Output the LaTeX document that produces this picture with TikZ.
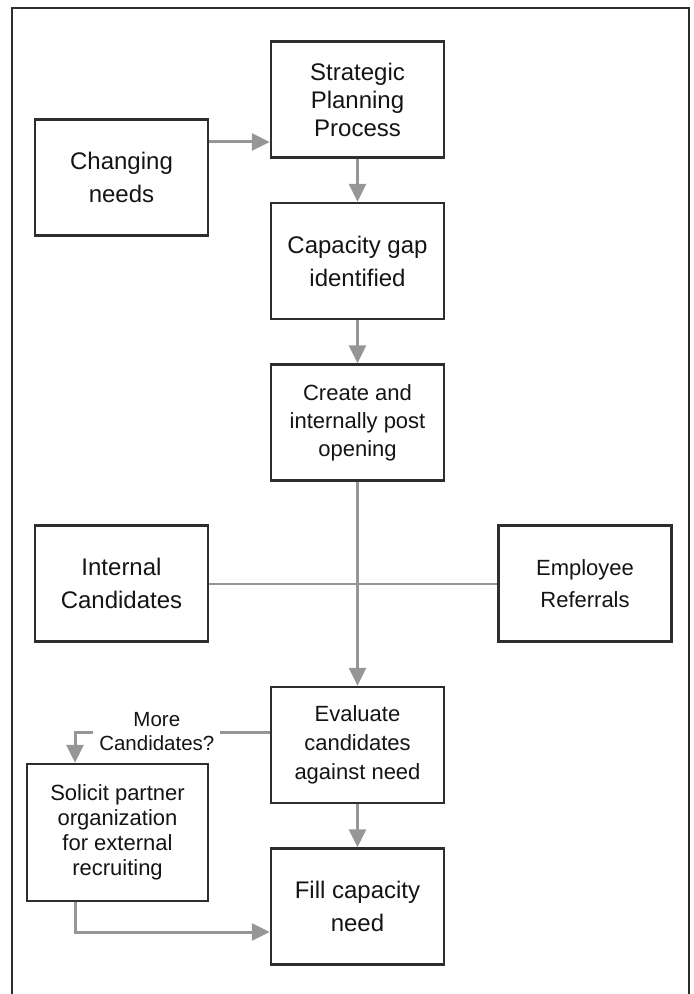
\documentclass[tikz,border=0pt]{standalone}
\usepackage{fontspec}
\setmainfont{Liberation Sans}
\usetikzlibrary{positioning,arrows.meta}
\definecolor{linkgray}{RGB}{150,150,150}
\definecolor{boxgray}{RGB}{45,45,45}
\definecolor{inkgray}{RGB}{20,20,20}

\begin{document}
\begin{tikzpicture}[node distance=80.75pt,on grid,
    box/.style={draw=boxgray,line width=1.2pt,minimum width=86.5pt,minimum height=58pt,
      inner sep=2pt,align=center,text=inkgray,font=\fontsize{12}{16.5}\selectfont},
    link/.style={color=linkgray,line width=1.5pt},
    arrow/.style={link,-{Triangle[length=9pt,width=8.5pt]}},
    ask/.style={fill=white,inner xsep=3pt,inner ysep=1pt,align=center,text=inkgray,
      font=\fontsize{10.25}{12}\selectfont}]
  \useasboundingbox (0,0) rectangle (346.5pt,-497pt);
  \draw[boxgray,line width=1pt] (6pt,-497pt) -- (6pt,-4pt) -- (344.5pt,-4pt) -- (344.5pt,-497pt);

  \node[box,font=\fontsize{12}{14}\selectfont] (strat) at (178.75pt,-49.75pt) {Strategic\\Planning\\Process};
  \node[box] (chg) [below left=39pt and 118pt of strat] {Changing\\needs};
  \node[box] (cap) [below=of strat] {Capacity gap\\identified};
  \node[box,font=\fontsize{11}{14}\selectfont] (post) [below=of cap] {Create and\\internally post\\opening};
  \node[box] (intc) [below left=80.5pt and 118pt of post] {Internal\\Candidates};
  \node[box,font=\fontsize{11}{16}\selectfont] (refs) [below right=80.5pt and 113.75pt of post] {Employee\\Referrals};
  \node[box,font=\fontsize{11}{14.5}\selectfont] (eval) [below=161.25pt of post] {Evaluate\\candidates\\against need};
  \node[box] (need) [below=of eval] {Fill capacity\\need};
  \node[box,font=\fontsize{11}{12.5}\selectfont,minimum width=90.5pt,minimum height=68.5pt] (sol)
    [below left=43.75pt and 120pt of eval] {Solicit partner\\organization\\for external\\recruiting};

  \coordinate (chgout) at ([yshift=17.75pt]chg.east);
  \coordinate (evalout) at ([yshift=6.5pt]eval.west);
  \coordinate (solin) at ([xshift=-21.25pt]sol.north);
  \coordinate (solout) at ([xshift=-21.25pt]sol.south);
  \coordinate (needin) at ([yshift=-12.75pt]need.west);

  \draw[link,line width=1pt] (intc) -- (refs);
  \draw[arrow] (chgout) -- (chgout -| strat.west);
  \path[arrow]
    (strat) edge (cap)
    (cap)   edge (post)
    (post)  edge (eval)
    (eval)  edge (need);
  \draw[arrow] (evalout) -- node[ask,pos=0.58] {More\\Candidates?} (evalout -| solin) -- (solin);
  \draw[arrow] (solout) |- (needin);
\end{tikzpicture}
\end{document}
